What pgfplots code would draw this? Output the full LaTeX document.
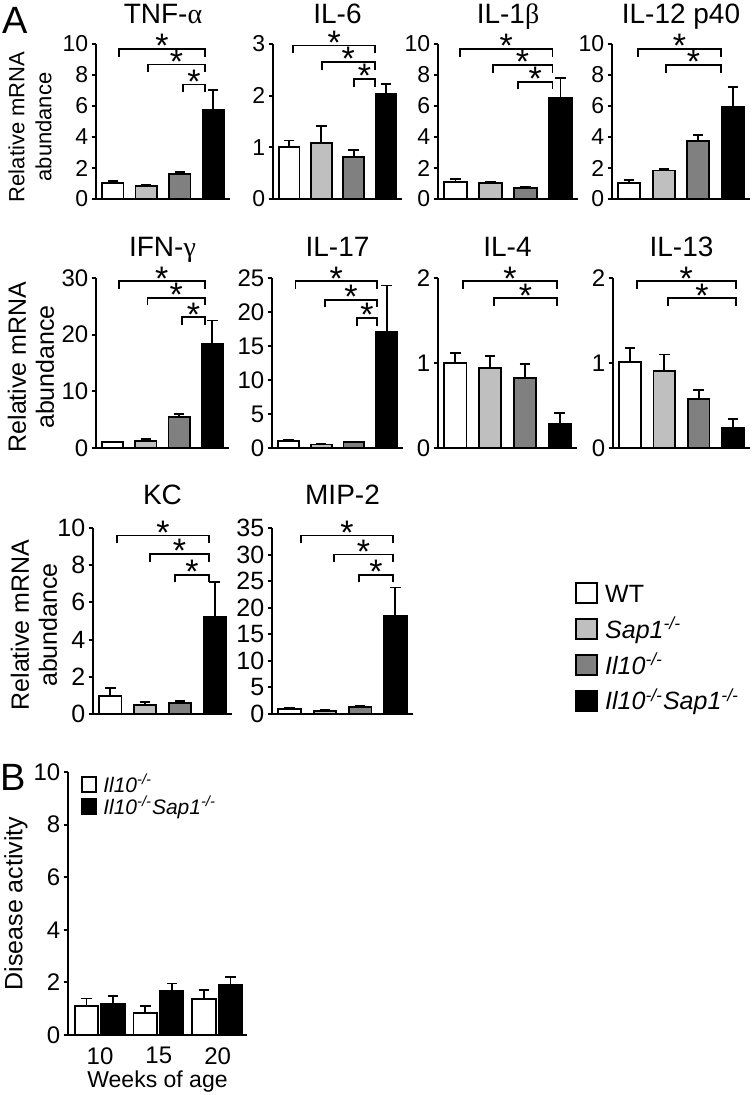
\documentclass[border=0pt]{standalone}
\usepackage{fontspec}
\setmainfont{Liberation Sans}
\newfontfamily\grk{Liberation Serif}
\usepackage{pgfplots}
\pgfplotsset{compat=1.18}
\definecolor{lg}{gray}{0.75}
\definecolor{dg}{gray}{0.5}
\pgfplotsset{
 panel/.style={scale only axis, anchor=south west,
   axis x line*=bottom, axis y line*=left,
   axis line style={-, line width=1pt},
   xmin=-0.5, xmax=3.5, ymin=0, xtick=\empty,
   tick align=outside, major tick length=2.2pt,
   ytick style={line width=1pt, black},
   tick label style={font=\fontsize{11.5}{12}\selectfont},
   yticklabel style={inner sep=1.5pt},
   /pgf/number format/assume math mode=true,
   clip=false, ybar, bar width=0.64},
 r2/.style={tick label style={font=\fontsize{12}{12}\selectfont}},
 r3/.style={tick label style={font=\fontsize{12.5}{12.5}\selectfont}},
 bb/.style={draw=black, line width=0.9pt, bar shift=0pt,
   error bars/y dir=plus, error bars/y explicit,
   error bars/error bar style={line width=0.9pt, black, solid},
   error bars/error mark options={rotate=90, mark size=2.6pt, line width=0.9pt, black, solid}},
 sq/.style={legend image code/.code={\draw[##1, line width=0.9pt] (0pt,-3.75pt) rectangle (10.5pt,6.25pt);}},
 sqb/.style={legend image code/.code={\draw[##1, line width=0.9pt] (0pt,-3pt) rectangle (7pt,4.5pt);}},
}
\newcommand{\brk}[3]{%
  \draw[line width=0.9pt] ([yshift=-3.8pt]axis cs:#1,#3) -- (axis cs:#1,#3) -- (axis cs:#2,#3) -- ([yshift=-3.8pt]axis cs:#2,#3);
  \node[anchor=base, inner sep=0pt, yshift=-4.4pt, font=\fontsize{17}{17}\selectfont] at (axis cs:{(#1+#2)/2},#3) {*};
}
\begin{document}
\begin{tikzpicture}
\path[use as bounding box] (0,0) rectangle (377pt,547.5pt);
% ---------- Row 1
\begin{axis}[panel, at={(48pt,448pt)}, width=67pt, height=77.5pt, ymax=10, ytick={0,2,...,10}]
\addplot[fill=white, bb] coordinates {(0,1.03) +- (0,0.11)};
\addplot[fill=lg, bb] coordinates {(1,0.86) +- (0,0.06)};
\addplot[fill=dg, bb] coordinates {(2,1.63) +- (0,0.11)};
\addplot[fill=black, bb] coordinates {(3,5.72) +- (0,1.33)};
\brk{0.19}{2.75}{9.68}
\brk{1.05}{2.75}{8.67}
\brk{2.10}{2.75}{7.38}
\end{axis}
\begin{axis}[panel, at={(136.5pt,448pt)}, width=64.5pt, height=77.5pt, ymax=3, ytick={0,1,2,3}]
\addplot[fill=white, bb] coordinates {(0,1.0) +- (0,0.13)};
\addplot[fill=lg, bb] coordinates {(1,1.08) +- (0,0.33)};
\addplot[fill=dg, bb] coordinates {(2,0.82) +- (0,0.13)};
\addplot[fill=black, bb] coordinates {(3,2.03) +- (0,0.19)};
\brk{0.13}{2.66}{2.97}
\brk{1.01}{2.66}{2.65}
\brk{2.01}{2.66}{2.32}
\end{axis}
\begin{axis}[panel, at={(219pt,448pt)}, width=70pt, height=77.5pt, ymax=10, ytick={0,2,...,10}]
\addplot[fill=white, bb] coordinates {(0,1.1) +- (0,0.17)};
\addplot[fill=lg, bb] coordinates {(1,1.02) +- (0,0.1)};
\addplot[fill=dg, bb] coordinates {(2,0.7) +- (0,0.08)};
\addplot[fill=black, bb] coordinates {(3,6.53) +- (0,1.27)};
\brk{0.13}{2.77}{9.68}
\brk{1.06}{2.77}{8.64}
\brk{1.78}{2.77}{7.56}
\end{axis}
\begin{axis}[panel, at={(306pt,448pt)}, width=69pt, height=77.5pt, ymax=10, ytick={0,2,...,10}]
\addplot[fill=white, bb] coordinates {(0,1.02) +- (0,0.21)};
\addplot[fill=lg, bb] coordinates {(1,1.84) +- (0,0.11)};
\addplot[fill=dg, bb] coordinates {(2,3.75) +- (0,0.36)};
\addplot[fill=black, bb] coordinates {(3,5.97) +- (0,1.28)};
\brk{0.25}{2.66}{9.68}
\brk{1.07}{2.66}{8.64}
\end{axis}
% ---------- Row 2
\begin{axis}[panel, r2, at={(48pt,323.5pt)}, width=66.5pt, height=85pt, ymax=30, ytick={0,10,20,30}]
\addplot[fill=white, bb] coordinates {(0,1.06) +- (0,0.1)};
\addplot[fill=lg, bb] coordinates {(1,1.24) +- (0,0.3)};
\addplot[fill=dg, bb] coordinates {(2,5.4) +- (0,0.66)};
\addplot[fill=black, bb] coordinates {(3,18.4) +- (0,4.1)};
\brk{0.19}{2.77}{29.4}
\brk{1.05}{2.77}{26.5}
\brk{2.09}{2.77}{23.06}
\end{axis}
\begin{axis}[panel, r2, at={(136pt,323.5pt)}, width=65.5pt, height=85pt, ymax=25, ytick={0,5,...,25}]
\addplot[fill=white, bb] coordinates {(0,1.0) +- (0,0.25)};
\addplot[fill=lg, bb] coordinates {(1,0.5) +- (0,0.05)};
\addplot[fill=dg, bb] coordinates {(2,0.85) +- (0,0.1)};
\addplot[fill=black, bb] coordinates {(3,17.0) +- (0,6.9)};
\brk{0.22}{2.70}{24.5}
\brk{1.12}{2.70}{21.8}
\brk{2.10}{2.70}{19.1}
\end{axis}
\begin{axis}[panel, r2, at={(219pt,323.5pt)}, width=69.5pt, height=85pt, ymax=2, ytick={0,1,2}]
\addplot[fill=white, bb] coordinates {(0,1.0) +- (0,0.12)};
\addplot[fill=lg, bb] coordinates {(1,0.94) +- (0,0.14)};
\addplot[fill=dg, bb] coordinates {(2,0.82) +- (0,0.17)};
\addplot[fill=black, bb] coordinates {(3,0.28) +- (0,0.13)};
\brk{0.22}{2.92}{1.96}
\brk{1.11}{2.92}{1.76}
\end{axis}
\begin{axis}[panel, r2, at={(306.5pt,323.5pt)}, width=68.5pt, height=85pt, ymax=2, ytick={0,1,2}]
\addplot[fill=white, bb] coordinates {(0,1.01) +- (0,0.17)};
\addplot[fill=lg, bb] coordinates {(1,0.91) +- (0,0.19)};
\addplot[fill=dg, bb] coordinates {(2,0.58) +- (0,0.1)};
\addplot[fill=black, bb] coordinates {(3,0.235) +- (0,0.11)};
\brk{0.20}{3.08}{1.96}
\brk{1.11}{3.08}{1.76}
\end{axis}
% ---------- Row 3
\begin{axis}[panel, r3, at={(46.5pt,190.5pt)}, width=69.5pt, height=93pt, ymax=10, ytick={0,2,...,10}]
\addplot[fill=white, bb] coordinates {(0,0.97) +- (0,0.44)};
\addplot[fill=lg, bb] coordinates {(1,0.5) +- (0,0.14)};
\addplot[fill=dg, bb] coordinates {(2,0.58) +- (0,0.11)};
\addplot[fill=black, bb] coordinates {(3,5.2) +- (0,1.89)};
\brk{0.19}{2.84}{9.6}
\brk{1.14}{2.84}{8.6}
\brk{1.86}{2.84}{7.49}
\end{axis}
\begin{axis}[panel, r3, at={(136pt,190.5pt)}, width=70.5pt, height=93pt, ymax=35, ytick={0,5,...,35},
  legend cell align=left,
  legend style={at={(2.149,0.71)}, anchor=north west, draw=none, fill=none, inner sep=0pt,
    font=\fontsize{12.5}{14}\selectfont, row sep=5pt, column sep=3.5pt,
    nodes={inner sep=0pt, text height=9.5pt, text depth=3pt}}]
\addplot[fill=white, bb, sq] coordinates {(0,0.95) +- (0,0.15)};
\addlegendentry{WT}
\addplot[fill=lg, bb, sq] coordinates {(1,0.63) +- (0,0.05)};
\addlegendentry{\textit{Sap1\textsuperscript{-/-}}}
\addplot[fill=dg, bb, sq] coordinates {(2,1.38) +- (0,0.12)};
\addlegendentry{\textit{Il10\textsuperscript{-/-}}}
\addplot[fill=black, bb, sq] coordinates {(3,18.5) +- (0,5.3)};
\addlegendentry{\textit{Il10\textsuperscript{-/-}Sap1\textsuperscript{-/-}}}
\brk{0.32}{2.93}{33.6}
\brk{1.26}{2.93}{30.0}
\brk{1.97}{2.93}{26.2}
\end{axis}
% ---------- Panel B
\begin{axis}[scale only axis, anchor=south west, at={(34pt,30pt)}, width=89.5pt, height=131.5pt,
   axis x line*=bottom, axis y line*=left, axis line style={-, line width=1pt},
   xmin=-0.545, xmax=2.5, ymin=0, ymax=10, ytick={0,2,...,10},
   xtick={0,1,2}, xticklabels={10,15,20}, xtick style={draw=none},
   tick align=outside, major tick length=2.2pt, ytick style={line width=1pt, black},
   tick label style={font=\fontsize{12}{12}\selectfont},
   yticklabel style={inner sep=1.5pt},
   xticklabel style={yshift=-0.5pt},
   /pgf/number format/assume math mode=true,
   xlabel={Weeks of age}, ylabel={Disease activity},
   xlabel style={font=\fontsize{11.5}{11.5}\selectfont, at={(0.5,0)}, anchor=base, yshift=-26pt},
   ylabel style={font=\fontsize{12.5}{12.5}\selectfont, yshift=-2pt},
   ybar, bar width=0.4, clip=false,
   legend cell align=left,
   legend style={at={(0.073,0.985)}, anchor=north west, draw=none, fill=none, inner sep=0pt,
    font=\fontsize{10.5}{11}\selectfont, row sep=1pt, column sep=3pt,
    nodes={inner sep=0pt, text height=8pt, text depth=1.5pt}}]
\addplot[fill=white, bb, bar shift=-0.23, sqb]
 coordinates {(0,1.10) +- (0,0.29) (1,0.84) +- (0,0.27) (2,1.38) +- (0,0.33)};
\addlegendentry{\textit{Il10\textsuperscript{-/-}}}
\addplot[fill=black, bb, bar shift=0.22, sqb]
 coordinates {(0,1.2) +- (0,0.28) (1,1.68) +- (0,0.28) (2,1.92) +- (0,0.30)};
\addlegendentry{\textit{Il10\textsuperscript{-/-}Sap1\textsuperscript{-/-}}}
\end{axis}
% ---------- Titles and labels
\begin{scope}[every node/.style={anchor=base, font=\fontsize{14}{14}\selectfont}]
\node at (81.5pt,535.5pt) {TNF-{\grk α}};
\node at (168.75pt,535.5pt) {IL-6};
\node at (254pt,535.5pt) {IL-1{\grk β}};
\node at (340.5pt,535.5pt) {IL-12 p40};
\node at (81.25pt,419pt) {IFN-{\grk γ}};
\node at (168.75pt,419pt) {IL-17};
\node at (253.75pt,419pt) {IL-4};
\node at (340.75pt,419pt) {IL-13};
\node at (81.25pt,295pt) {KC};
\node at (171.25pt,295pt) {MIP-2};
\end{scope}
\node[rotate=90, align=center, font=\fontsize{11}{13.5}\selectfont] at (15pt,484pt) {Relative mRNA\\abundance};
\node[rotate=90, align=center, font=\fontsize{12.5}{14}\selectfont] at (15.5pt,364pt) {Relative mRNA\\abundance};
\node[rotate=90, align=center, font=\fontsize{12.5}{14}\selectfont] at (17pt,235pt) {Relative mRNA\\abundance};
\node[font=\fontsize{19}{19}\selectfont] at (7.5pt,537.5pt) {A};
\node[font=\fontsize{19}{19}\selectfont] at (6.5pt,159pt) {B};
\end{tikzpicture}
\end{document}
